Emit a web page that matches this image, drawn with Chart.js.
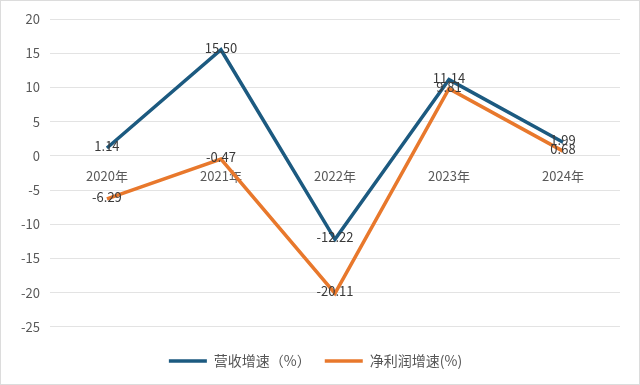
<!DOCTYPE html>
<html>
<head>
<meta charset="utf-8">
<script src="https://cdn.jsdelivr.net/npm/chart.js@4/dist/chart.umd.min.js"></script>
<style>
  body { margin: 0; background: #fff; }
  #wrap { width: 640px; height: 385px; box-sizing: border-box; border: 1px solid #dcdcdc; }
</style>
</head>
<body>
<div id="wrap"><canvas id="myChart" width="638" height="383"></canvas></div>
<script>
const years = ['2020年', '2021年', '2022年', '2023年', '2024年'];
const revenueGrowth = [1.14, 15.50, -12.22, 11.14, 1.99];
const profitGrowth = [-6.29, -0.47, -20.11, 9.81, 0.68];

const FONT = "'Noto Sans CJK SC', 'Noto Sans', sans-serif";

// draws value text centred on each point
const pointLabels = {
    id: 'pointLabels',
    afterDatasetsDraw(chart) {
        const ctx = chart.ctx;
        ctx.save();
        ctx.font = '13px ' + FONT;
        ctx.fillStyle = '#3a3a3a';
        ctx.textAlign = 'center';
        ctx.textBaseline = 'middle';
        chart.data.datasets.forEach((ds, i) => {
            chart.getDatasetMeta(i).data.forEach((pt, j) => {
                ctx.fillText(ds.data[j].toFixed(2), pt.x, pt.y - 2);
            });
        });
        ctx.restore();
    }
};

new Chart(document.getElementById('myChart').getContext('2d'), {
    type: 'line',
    data: {
        labels: years,
        datasets: [{
            label: '营收增速（%）',
            data: revenueGrowth,
            borderColor: '#1c5a80',
            backgroundColor: '#1c5a80',
            borderWidth: 3.5,
            pointRadius: 0,
            tension: 0
        }, {
            label: '净利润增速(%)',
            data: profitGrowth,
            borderColor: '#e8782c',
            backgroundColor: '#e8782c',
            borderWidth: 3.5,
            pointRadius: 0,
            tension: 0
        }]
    },
    options: {
        responsive: false,
        animation: false,
        layout: { padding: { left: 10, right: 19, top: 18, bottom: 6 } },
        plugins: {
            tooltip: { enabled: false },
            legend: {
                position: 'bottom',
                title: { display: true, text: ' ', padding: 0, font: { size: 11, lineHeight: 1.2 } },
                labels: {
                    usePointStyle: true,
                    pointStyle: 'line',
                    pointStyleWidth: 38,
                    color: '#555',
                    font: { family: FONT, size: 14 },
                    padding: 14
                }
            }
        },
        scales: {
            x: {
                position: { y: 0 },
                offset: true,
                grid: { display: false },
                border: { display: false },
                ticks: { color: '#595959', font: { family: FONT, size: 13 }, padding: 4 }
            },
            y: {
                min: -25,
                max: 20,
                ticks: { stepSize: 5, color: '#595959', font: { family: FONT, size: 13 }, padding: 10 },
                grid: { color: '#e3e3e3', drawTicks: false },
                border: { display: false }
            }
        }
    },
    plugins: [pointLabels]
});
</script>
</body>
</html>
